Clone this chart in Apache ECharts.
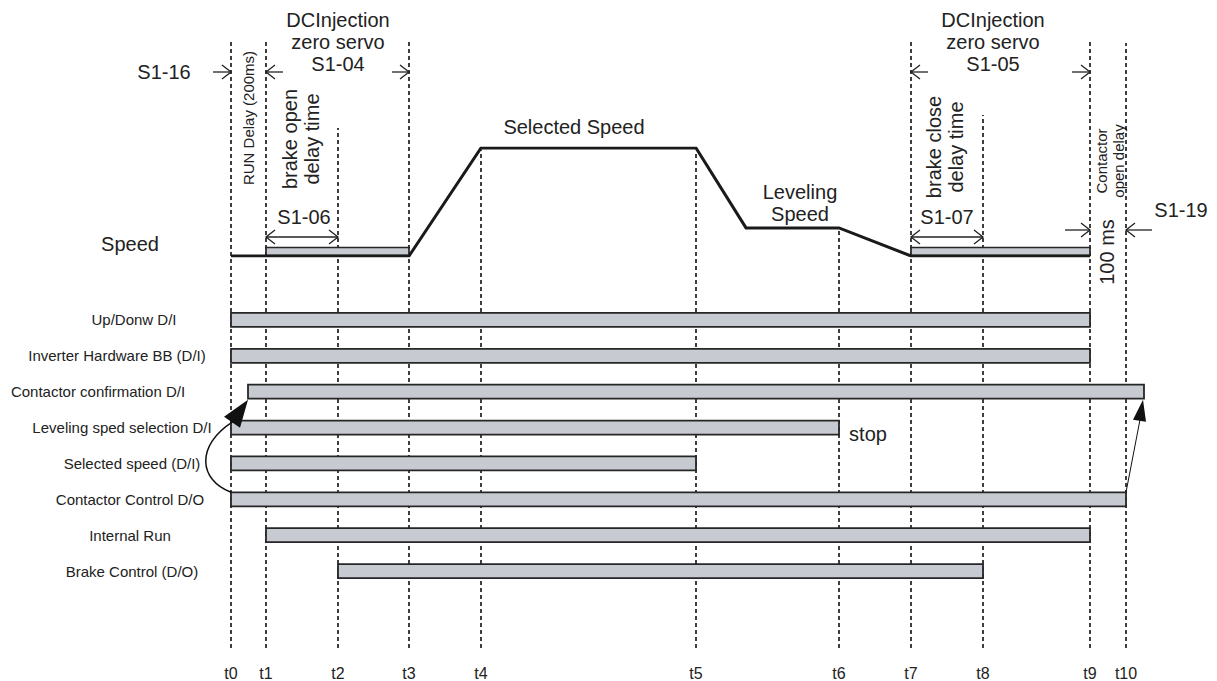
<!DOCTYPE html>
<html>
<head>
<meta charset="utf-8">
<script src="https://cdn.jsdelivr.net/npm/echarts@6.0.0/dist/echarts.min.js"></script>
<style>html,body{margin:0;padding:0;background:#fff;}#chart{width:1217px;height:681px;}</style>
</head>
<body>
<div id="chart"></div>
<script>
// ---------------- DATA ----------------
const tLabels = ['t0','t1','t2','t3','t4','t5','t6','t7','t8','t9','t10'];
const tTimes  = [0, 35, 107, 178, 250, 465, 608, 680, 752, 859, 895];

const speedTimes  = [0, 35, 178, 250, 465, 515, 608, 680, 859];
const speedValues = [0, 0, 0, 1, 1, 0.26, 0.26, 0, 0];

const holdStart = [35, 680];
const holdEnd   = [178, 859];

const signalNames = ['Up/Donw D/I','Inverter Hardware BB (D/I)','Contactor confirmation D/I','Leveling sped selection D/I','Selected speed (D/I)','Contactor Control D/O','Internal Run','Brake Control (D/O)'];
const signalOn  = [0, 0, 17, 0, 0, 0, 35, 107];
const signalOff = [859, 859, 913, 608, 465, 895, 859, 752];

// ---------------- LAYOUT / STYLE ----------------
const FONT = "'Liberation Sans', Arial, Helvetica, sans-serif";
const INK = '#222';
const BAR_FILL = '#c8cad1';
const BAR_STROKE = '#262626';
const X_MIN = -231, X_MAX = 986;
const LABEL_X = [134,117,98,122,132,130,130,132];
const DASH_TOP = [42,42,128,42,150,151,231,42,115,42,43];
const SINGLE_ARROWS = [ // tip index, tail offset (px), y (px)
  [0,-18,72],[1,17,72],[3,-17,72],[7,17,72],[9,-18,72],[9,-25,230],[10,26,230]
];
const DOUBLE_ARROWS = [[1,2,237],[7,8,237]];

function chevron(x, y, dir) {
  return {type:'polyline', shape:{points:[[x-dir*9,y-7],[x,y],[x-dir*9,y+7]]},
    style:{stroke:INK, lineWidth:1.3, fill:null}};
}
function txt(text, x, y, size, extra) {
  return Object.assign({type:'text', x:x, y:y, style:{text:text, fill:INK, font:size+'px '+FONT,
    textAlign:'center', textVerticalAlign:'middle', align:'center', verticalAlign:'middle', lineHeight:Math.round(size*1.12)}}, extra||{});
}

const chart = echarts.init(document.getElementById('chart'), null, {renderer:'svg'});

const option = {
  animation:false,
  backgroundColor:'#fff',
  grid:[
    {left:0, right:0, top:148, height:108},   // speed profile
    {left:0, right:0, top:302, height:287},   // signal rows
    {left:0, right:0, top:42, bottom:33}      // time axis
  ],
  xAxis:[
    {gridIndex:0, type:'value', min:X_MIN, max:X_MAX, show:false},
    {gridIndex:1, type:'value', min:X_MIN, max:X_MAX, show:false},
    {gridIndex:2, type:'value', min:X_MIN, max:X_MAX,
      axisLine:{show:false}, axisTick:{show:false}, splitLine:{show:false},
      axisLabel:{customValues:tTimes, formatter:function(v){return tLabels[tTimes.indexOf(v)];},
        fontSize:16, color:INK, fontFamily:FONT, margin:17}}
  ],
  yAxis:[
    {gridIndex:0, type:'value', min:0, max:1, show:false},
    {gridIndex:1, type:'category', data:signalNames, inverse:true, show:false},
    {gridIndex:2, type:'value', min:0, max:1, show:false}
  ],
  series:[
    { // vertical dashed time lines
      type:'custom', xAxisIndex:2, yAxisIndex:2, z:1, silent:true, clip:false,
      data:tTimes.map(function(t,i){return [t,i];}),
      renderItem:function(params, api){
        const i = api.value(1);
        const p = api.coord([api.value(0), 0]);
        return {type:'line', shape:{x1:p[0], y1:p[1], x2:p[0], y2:DASH_TOP[i]},
          style:{stroke:'#000', lineWidth:1.5, lineDash:[4,3]}};
      }
    },
    { // speed profile
      type:'line', xAxisIndex:0, yAxisIndex:0, z:5, symbol:'none', silent:true,
      data:speedTimes.map(function(t,i){return [t, speedValues[i]];}),
      lineStyle:{color:'#1a1a1a', width:3, join:'miter'}
    },
    { // DC injection / zero servo hold bars
      type:'custom', xAxisIndex:0, yAxisIndex:0, z:4, silent:true, clip:false,
      data:holdStart.map(function(s,i){return [s, holdEnd[i]];}),
      renderItem:function(params, api){
        const a = api.coord([api.value(0), 0]);
        const b = api.coord([api.value(1), 0]);
        return {type:'rect', shape:{x:a[0], y:a[1]-8.5, width:b[0]-a[0], height:8},
          style:{fill:BAR_FILL, stroke:BAR_STROKE, lineWidth:1.7}};
      }
    },
    { // signal bars + labels
      type:'custom', xAxisIndex:1, yAxisIndex:1, z:4, silent:true, clip:false,
      data:signalNames.map(function(n,i){return [signalOn[i], signalOff[i], i];}),
      encode:{x:[0,1], y:2},
      renderItem:function(params, api){
        const i = api.value(2);
        const a = api.coord([api.value(0), i]);
        const b = api.coord([api.value(1), i]);
        const h = 14;
        return {type:'group', children:[
          {type:'rect', shape:{x:a[0], y:a[1]-h/2, width:b[0]-a[0], height:h},
            style:{fill:BAR_FILL, stroke:BAR_STROKE, lineWidth:1.8}},
          txt(signalNames[i], LABEL_X[i], a[1], 15)
        ]};
      }
    },
    { // causal arrows between signals
      type:'custom', xAxisIndex:1, yAxisIndex:1, z:6, silent:true, clip:false,
      data:[[0]],
      renderItem:function(params, api){
        const s = api.coord([signalOn[5], 5]);
        const tip = api.coord([signalOn[2], 2]);
        const sx = s[0], sy = s[1]-7, tx = tip[0], ty = tip[1]+8;
        const bx = tx-16, by = ty+22; // arrow base centre
        const s2 = api.coord([signalOff[5], 5]);
        const tip2 = api.coord([signalOff[2], 2]);
        const ux = s2[0], uy = s2[1]-7, vx = tip2[0]-1, vy = tip2[1]+8;
        const wx = vx-3, wy = vy+20;
        return {type:'group', children:[
          {type:'bezierCurve', shape:{x1:sx, y1:sy, cpx1:sx-32, cpy1:sy-12, cpx2:sx-36, cpy2:by+24, x2:bx+1, y2:by},
            style:{stroke:'#111', lineWidth:1.5, fill:null}},
          {type:'polygon', shape:{points:[[tx,ty],[bx-8,by-5],[bx+8,by+6]]}, style:{fill:'#111'}},
          {type:'line', shape:{x1:ux, y1:uy, x2:wx, y2:wy}, style:{stroke:'#111', lineWidth:1}},
          {type:'polygon', shape:{points:[[vx,vy],[wx-7,wy],[wx+6,wy+2]]}, style:{fill:'#111'}}
        ]};
      }
    },
    { // dimension arrows
      type:'custom', xAxisIndex:2, yAxisIndex:2, z:6, silent:true, clip:false,
      data:SINGLE_ARROWS.map(function(a){return [tTimes[a[0]]];}).concat(DOUBLE_ARROWS.map(function(a){return [tTimes[a[0]]];})),
      renderItem:function(params, api){
        const k = params.dataIndex;
        if (k < SINGLE_ARROWS.length) {
          const a = SINGLE_ARROWS[k];
          const x = api.coord([tTimes[a[0]], 0])[0];
          const y = a[2], x0 = x + a[1];
          const dir = a[1] < 0 ? 1 : -1;
          return {type:'group', children:[
            {type:'line', shape:{x1:x0, y1:y, x2:x, y2:y}, style:{stroke:INK, lineWidth:1.3}},
            chevron(x, y, dir)
          ]};
        }
        const d = DOUBLE_ARROWS[k - SINGLE_ARROWS.length];
        const xa = api.coord([tTimes[d[0]], 0])[0];
        const xb = api.coord([tTimes[d[1]], 0])[0];
        const y = d[2];
        return {type:'group', children:[
          {type:'line', shape:{x1:xa, y1:y, x2:xb, y2:y}, style:{stroke:INK, lineWidth:1.3}},
          chevron(xa, y, -1), chevron(xb, y, 1)
        ]};
      }
    }
  ],
  graphic:[
    txt('Speed', 130, 244, 20),
    txt('S1-16', 164, 72, 20),
    txt('DCInjection\nzero servo\nS1-04', 338, 42, 20),
    txt('DCInjection\nzero servo\nS1-05', 993, 42, 20),
    txt('RUN Delay (200ms)', 248, 118, 15, {rotation:Math.PI/2}),
    txt('brake open\ndelay time', 301, 139, 20, {rotation:Math.PI/2}),
    txt('brake close\ndelay time', 945, 147, 20, {rotation:Math.PI/2}),
    txt('Contactor\nopen delay', 1110, 161, 15, {rotation:Math.PI/2}),
    txt('100 ms', 1107, 252, 20, {rotation:Math.PI/2}),
    txt('S1-19', 1181, 210, 20),
    txt('S1-06', 304, 217, 20),
    txt('S1-07', 947, 217, 20),
    txt('Selected Speed', 574, 127, 20),
    txt('Leveling\nSpeed', 800, 203, 20),
    txt('stop', 868, 434, 20)
  ]
};
chart.setOption(option);
</script>
</body>
</html>
